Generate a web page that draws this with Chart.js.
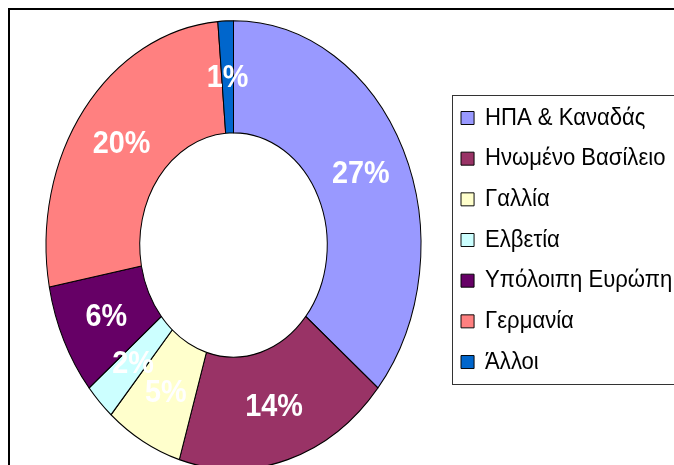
<!DOCTYPE html>
<html>
<head>
<meta charset="utf-8">
<script src="https://cdn.jsdelivr.net/npm/chart.js@4"></script>
<style>
html,body{margin:0;padding:0;background:#fff;overflow:hidden}
#wrap{position:relative;width:674px;height:465px}
</style>
</head>
<body>
<div id="wrap"><canvas id="c"></canvas></div>
<script>
const categories = ['ΗΠΑ & Καναδάς','Ηνωμένο Βασίλειο','Γαλλία','Ελβετία','Υπόλοιπη Ευρώπη','Γερμανία','Άλλοι'];
const values = [27, 14, 5, 2, 6, 20, 1];
const valueLabels = ['27%', '14%', '5%', '2%', '6%', '20%', '1%'];
const sliceColors = ['#9999FF','#993366','#FFFFCC','#CCFFFF','#660066','#FF8080','#0066CC'];

const STRETCH_Y = 1.196;          // picture is taller than wide
const CENTER_X = 233.5, CENTER_Y = 245, RADIUS = 187.5;
const LEGEND_SQUEEZE = 0.92;
const FONT = '"Liberation Sans", Arial, sans-serif';

const layoutPlugin = {
  id: 'layoutFix',
  afterLayout(chart) {
    chart.chartArea = {
      left: CENTER_X - RADIUS, top: CENTER_Y - RADIUS,
      right: CENTER_X + RADIUS, bottom: CENTER_Y + RADIUS,
      width: 2 * RADIUS, height: 2 * RADIUS
    };
    const lg = chart.legend;
    const pad = lg.options.labels.padding;
    lg.left = 461 - pad;
    lg.top = 106 - pad;
    lg.right = 1200;
    lg.bottom = chart.height;
    lg.width = lg.right - lg.left;
    lg.height = lg.bottom - lg.top;
  },
  beforeDraw(chart) {
    const ctx = chart.ctx;
    const lg = chart.legend;
    const ox = lg.left + lg.options.labels.padding;
    ctx.save();
    ctx.translate(ox, 0);
    ctx.scale(LEGEND_SQUEEZE, 1);
    ctx.translate(-ox, 0);
    chart.$legendScaled = true;
  },
  beforeDatasetsDraw(chart) {
    const ctx = chart.ctx;
    if (chart.$legendScaled) { ctx.restore(); chart.$legendScaled = false; }
    const a = chart.getDatasetMeta(0).data[0];
    ctx.save();
    ctx.translate(a.x, a.y);
    ctx.scale(1, STRETCH_Y);
    ctx.translate(-a.x, -a.y);
  },
  afterDatasetsDraw(chart) {
    const ctx = chart.ctx;
    ctx.restore();
    const meta = chart.getDatasetMeta(0);
    ctx.save();
    ctx.fillStyle = '#ffffff';
    ctx.font = 'bold 32px ' + FONT;
    ctx.textAlign = 'center';
    ctx.textBaseline = 'middle';
    meta.data.forEach((arc, i) => {
      const p = arc.tooltipPosition();
      const ty = arc.y + (p.y - arc.y) * STRETCH_Y;
      ctx.save();
      ctx.translate(p.x, ty + 1);
      ctx.scale(0.9, 1);
      ctx.fillText(valueLabels[i], 0, 0);
      ctx.restore();
    });
    ctx.restore();
  },
  afterDraw(chart) {
    const ctx = chart.ctx;
    const lg = chart.legend;
    const pad = lg.options.labels.padding;
    const itemH = lg.options.labels.font.size;
    const n = lg.legendItems.length;
    const firstTop = lg.top + pad;
    const lastBottom = firstTop + (n - 1) * (itemH + pad) + itemH;
    ctx.save();
    // legend frame
    ctx.strokeStyle = '#333';
    ctx.lineWidth = 1;
    const fl = Math.round(lg.left + pad - 9) + 0.5;
    const ft = Math.round(firstTop - 11) + 0.5;
    const fb = Math.round(lastBottom + 10) + 0.5;
    ctx.strokeRect(fl, ft, chart.width, fb - ft);
    // chart frame
    ctx.strokeStyle = '#000';
    ctx.lineWidth = 2;
    ctx.beginPath();
    ctx.moveTo(9, chart.height + 5);
    ctx.lineTo(9, 9);
    ctx.lineTo(chart.width + 5, 9);
    ctx.stroke();
    ctx.restore();
  }
};

new Chart(document.getElementById('c'), {
  type: 'doughnut',
  data: {
    labels: categories,
    datasets: [{
      data: values,
      backgroundColor: sliceColors,
      borderColor: '#000',
      borderWidth: 1,
      hoverOffset: 0,
      clip: false
    }]
  },
  options: {
    responsive: true,
    maintainAspectRatio: false,
    devicePixelRatio: 1,
    animation: false,
    cutout: '50%',
    radius: RADIUS,
    layout: { padding: 0 },
    plugins: {
      legend: {
        position: 'right',
        align: 'start',
        labels: {
          boxWidth: 14.2,
          boxHeight: 13,
          padding: 16.67,
          color: '#000',
          font: { family: FONT, size: 24 }
        }
      },
      tooltip: { enabled: false }
    }
  },
  plugins: [layoutPlugin]
});
</script>
</body>
</html>
